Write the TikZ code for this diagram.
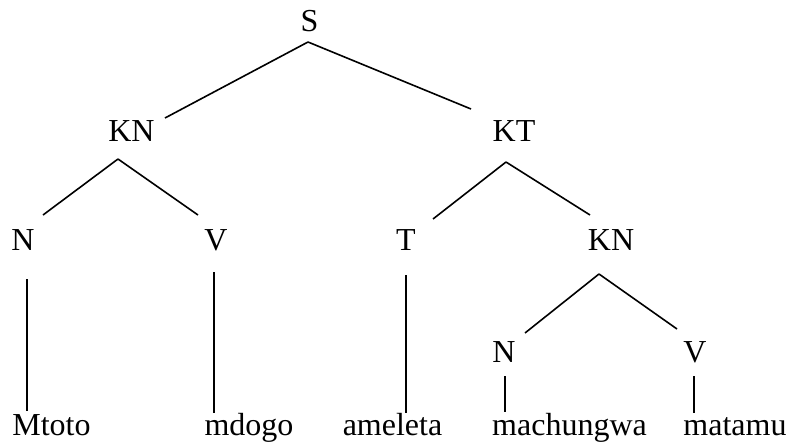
\documentclass[tikz,border=0pt]{standalone}
\usepackage{fontspec}
\setmainfont{Liberation Serif}
\usetikzlibrary{calc}
\begin{document}
\begin{tikzpicture}[x=1pt,y=-1pt,
  lbl/.style={anchor=base,inner sep=0pt,font=\fontsize{32}{38}\selectfont},
  edge/.style={line width=1.6pt}]
\useasboundingbox (0,0) rectangle (791,445);
% nodes
\node[lbl] (S) at (309.5,31) {S};
\node[lbl] (KNa) at (131.5,141) {KN};
\node[lbl] (KT) at (514,141) {KT};
\node[lbl] (Na) at (23,250) {N};
\node[lbl] (Va) at (216,250) {V};
\node[lbl] (T) at (406,250) {T};
\node[lbl] (KNb) at (611,250) {KN};
\node[lbl] (Nb) at (504,362) {N};
\node[lbl] (Vb) at (695,362) {V};
\node[lbl] (w1) at (51.5,435) {Mtoto};
\node[lbl] (w2) at (249,435) {mdogo};
\node[lbl] (w3) at (392.5,435) {ameleta};
\node[lbl] (w4) at (569.5,435) {machungwa};
\node[lbl] (w5) at (735,435) {matamu};
% edges
\draw[edge] ($(S.base)+(-1.5,11)$) -- ($(KNa.base)+(33.5,-23)$);
\draw[edge] ($(S.base)+(-1.5,11)$) -- ($(KT.base)+(-43,-32)$);
\draw[edge] ($(KNa.base)+(-13.5,18)$) -- ($(Na.base)+(20,-35)$);
\draw[edge] ($(KNa.base)+(-13.5,18)$) -- ($(Va.base)+(-18,-35)$);
\draw[edge] ($(KT.base)+(-8,21)$) -- ($(T.base)+(27,-31)$);
\draw[edge] ($(KT.base)+(-8,21)$) -- ($(KNb.base)+(-21,-35)$);
\draw[edge] ($(KNb.base)+(-12,24)$) -- ($(Nb.base)+(21,-29)$);
\draw[edge] ($(KNb.base)+(-12,24)$) -- ($(Vb.base)+(-18,-33)$);
\draw[edge] ($(Na.base)+(4,29)$) -- ($(w1.base)+(-24.5,-24)$);
\draw[edge] ($(Va.base)+(-2,22)$) -- ($(w2.base)+(-35,-22)$);
\draw[edge] ($(T.base)+(0,25)$) -- ($(w3.base)+(13.5,-22)$);
\draw[edge] ($(Nb.base)+(1,14)$) -- ($(w4.base)+(-64.5,-23)$);
\draw[edge] ($(Vb.base)+(-1,14)$) -- ($(w5.base)+(-41,-22)$);
\end{tikzpicture}
\end{document}
